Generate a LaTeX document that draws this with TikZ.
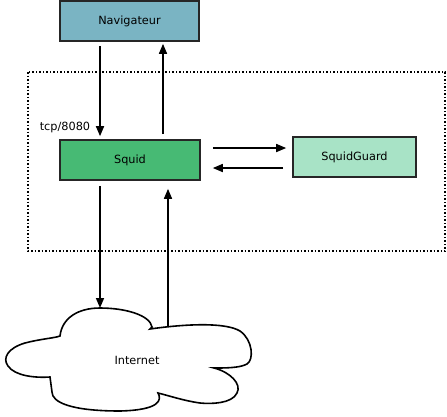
\documentclass[tikz,border=0pt]{standalone}
\usepackage{fontspec}
\setmainfont{DejaVu Sans}
\usetikzlibrary{arrows.meta,calc}
\definecolor{navc}{RGB}{122,180,195}
\definecolor{squidc}{RGB}{71,186,116}
\definecolor{guardc}{RGB}{168,227,198}
\begin{document}
\begin{tikzpicture}[x=1pt,y=-1pt,
  box/.style={draw=black!85,line width=1.6pt,minimum width=#1,minimum height=40pt,inner sep=0pt,font=\fontsize{11.3}{13}\selectfont},
  arr/.style={line width=1.6pt,-{Triangle[length=10pt,width=8pt]}},
  lbl/.style={font=\fontsize{11.3}{13}\selectfont,inner sep=0pt}]
\useasboundingbox (0,0) rectangle (447,416);
\draw[line width=1.5pt,dotted] (28,72) rectangle (445,251);
\node[box=139pt,fill=navc] (nav) at (129.5,21) {Navigateur};
\node[box=140pt,fill=squidc] (squid) at (130,160) {Squid};
\node[box=123pt,fill=guardc] (guard) at (354.5,157) {SquidGuard};
\node[lbl] (tcp) at (65,127) {tcp/8080};
% cloud
\draw[line width=1.6pt,fill=white]
 (60,336) .. controls (62,318) and (78,308) .. (100,308)
 .. controls (125,308) and (150,315) .. (152,327)
 -- (150,329) .. controls (185,324) and (225,322) .. (240,331)
 .. controls (253,340) and (254,360) .. (247,364)
 .. controls (240,368) and (225,368) .. (214,368)
 .. controls (230,372) and (242,384) .. (237,393)
 .. controls (232,404) and (210,404) .. (200,403)
 .. controls (185,401) and (170,396) .. (158,393)
 .. controls (162,400) and (160,410) .. (120,411)
 .. controls (70,411) and (52,402) .. (52,392)
 -- (50,377) .. controls (35,378) and (15,376) .. (8,366)
 .. controls (2,358) and (8,348) .. (25,343)
 .. controls (40,339) and (55,338) .. (60,336) -- cycle;
\node[lbl] (inet) at (137,360) {Internet};
\coordinate (cin) at (100,308);
\coordinate (cout) at (168,326);
% arrows
\coordinate (dn) at (100,0);
\coordinate (up) at (163,0);
\coordinate (dn2) at (100,0);
\coordinate (up2) at (168,0);
\draw[arr] ($(nav.south -| dn)+(0,4)$) -- ($(squid.north -| dn)+(0,-3)$);
\draw[arr] ($(squid.north -| up)+(0,-5)$) -- ($(nav.south -| up)+(0,2)$);
\draw[arr] ($(squid.east)+(12,-12)$) -- ($(guard.west)+(-6,-9)$);
\draw[arr] ($(guard.west)+(-9,11)$) -- ($(squid.east)+(12,8)$);
\draw[arr] ($(squid.south -| dn2)+(0,5)$) -- (cin);
\draw[arr] (cout) -- ($(squid.south -| up2)+(0,8)$);
\end{tikzpicture}
\end{document}
